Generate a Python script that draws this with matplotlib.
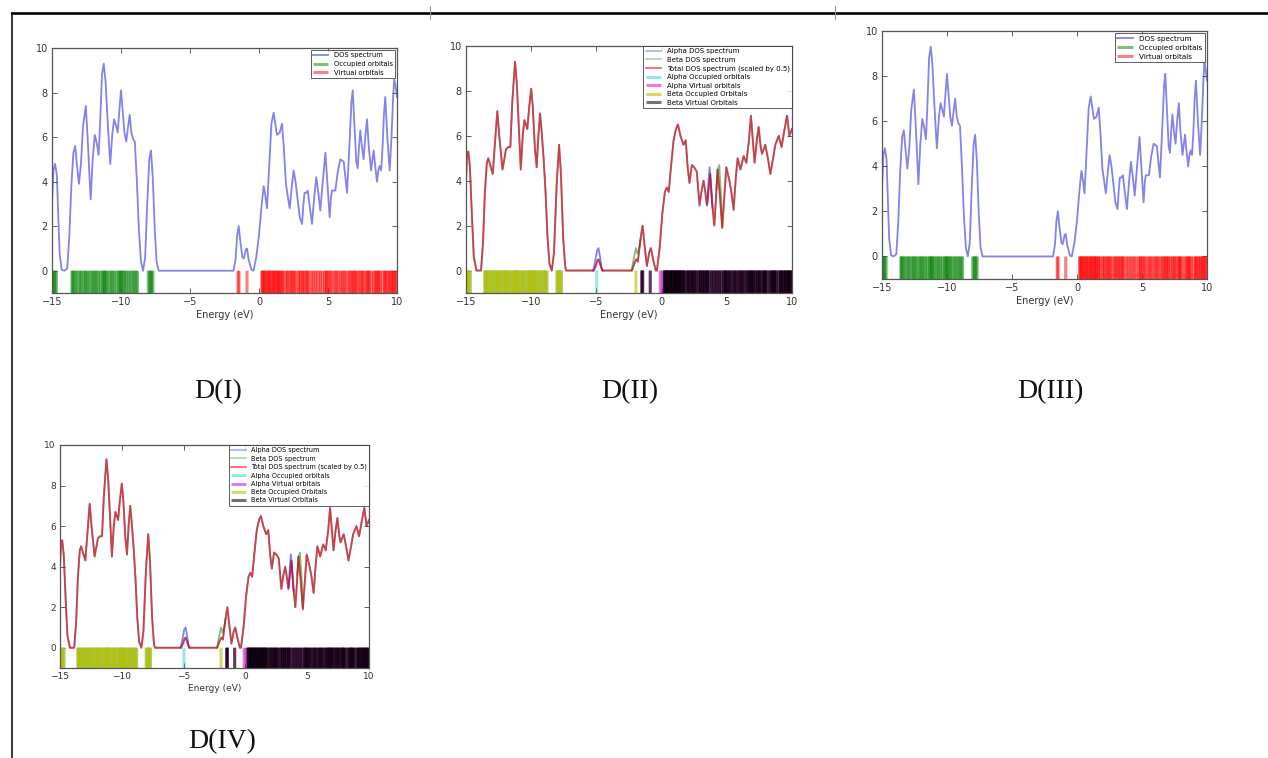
import matplotlib
matplotlib.use("Agg")
import matplotlib.pyplot as plt
from matplotlib.lines import Line2D

# --- orbital energies (eV) ---
occupied = [-15.0, -14.92, -14.85, -14.78, -14.68,
            -13.55, -13.5, -13.42, -13.3, -13.2, -13.05, -12.95, -12.85, -12.7, -12.6,
            -12.52, -12.4, -12.3, -12.15, -12.05, -11.95, -11.85, -11.75, -11.62,
            -11.5, -11.35, -11.28, -11.2, -11.15, -11.05, -10.95, -10.8, -10.7,
            -10.6, -10.48, -10.35, -10.2, -10.12, -10.05, -9.98, -9.9, -9.8, -9.7,
            -9.6, -9.45, -9.35, -9.22, -9.1, -9.0, -8.9, -8.8,
            -8.02, -7.92, -7.85, -7.78, -7.68]
virtual = [-1.52, -1.45, -0.87,
           0.2, 0.25, 0.3, 0.38, 0.45, 0.5, 0.62, 0.68, 0.75, 0.82, 0.9, 1.0, 1.05,
           1.12, 1.2, 1.3, 1.35, 1.42, 1.48, 1.55, 1.65, 1.7, 1.8, 1.95, 2.05, 2.1,
           2.25, 2.32, 2.4, 2.5, 2.58, 2.7, 2.85, 2.95, 3.0, 3.15, 3.2, 3.3, 3.42,
           3.5, 3.55, 3.7, 3.85, 3.95, 4.1, 4.2, 4.35, 4.45, 4.6, 4.75, 4.85, 4.9,
           5.0, 5.1, 5.2, 5.3, 5.45, 5.55, 5.65, 5.75, 5.9, 6.0, 6.1, 6.2, 6.3,
           6.45, 6.55, 6.65, 6.75, 6.82, 6.9, 7.0, 7.05, 7.2, 7.3, 7.4, 7.5, 7.55,
           7.7, 7.8, 7.88, 7.95, 8.0, 8.15, 8.3, 8.4, 8.5, 8.55, 8.65, 8.7, 8.8,
           8.95, 9.1, 9.15, 9.2, 9.35, 9.4, 9.5, 9.6, 9.65, 9.75, 9.82, 9.9, 10.0]
alpha_occ_extra = [-4.97]
beta_occ_extra = [-1.97]
alpha_virt_extra = [-0.1, 0.05]

# --- closed shell DOS curve (panels I and III) ---
dos_e = [-15.0, -14.9, -14.78, -14.65, -14.55, -14.45, -14.3, -14.1, -13.9, -13.75,
         -13.6, -13.45, -13.32, -13.2, -13.05, -12.9, -12.75, -12.55, -12.42, -12.2,
         -12.05, -11.9, -11.75, -11.62, -11.5, -11.38, -11.25, -11.12, -10.95, -10.78,
         -10.62, -10.5, -10.35, -10.24, -10.12, -10.0, -9.88, -9.75, -9.62, -9.5,
         -9.37, -9.25, -9.12, -9.0, -8.85, -8.7, -8.55, -8.4, -8.25, -8.1,
         -7.95, -7.83, -7.7, -7.55, -7.42, -7.27, -1.85, -1.7, -1.58, -1.47,
         -1.35, -1.2, -1.1, -0.95, -0.87, -0.75, -0.55, -0.4, -0.2, 0.0,
         0.2, 0.34, 0.45, 0.58, 0.72, 0.9, 1.06, 1.18, 1.3, 1.5,
         1.67, 1.8, 1.95, 2.05, 2.22, 2.38, 2.51, 2.65, 2.8, 2.95,
         3.12, 3.22, 3.3, 3.42, 3.53, 3.65, 3.84, 4.0, 4.15, 4.3,
         4.44, 4.62, 4.81, 4.95, 5.12, 5.22, 5.29, 5.45, 5.53, 5.7,
         5.89, 6.0, 6.14, 6.26, 6.38, 6.55, 6.7, 6.79, 6.92, 7.05,
         7.15, 7.25, 7.34, 7.45, 7.58, 7.7, 7.83, 7.95, 8.12, 8.22,
         8.31, 8.42, 8.55, 8.65, 8.74, 8.85, 8.95, 9.05, 9.15, 9.3,
         9.47, 9.6, 9.72, 9.8, 9.9, 10.0]
dos_v = [3.0, 4.5, 4.8, 4.3, 2.5, 0.8, 0.05, 0.0, 0.1, 1.5,
         3.8, 5.3, 5.6, 4.8, 3.9, 4.8, 6.5, 7.4, 6.0, 3.2,
         5.0, 6.1, 5.7, 5.2, 6.8, 8.8, 9.3, 8.5, 6.5, 4.8,
         6.2, 6.8, 6.5, 6.2, 7.2, 8.1, 7.2, 6.2, 5.8, 6.4,
         7.0, 6.2, 5.9, 5.8, 4.0, 1.8, 0.4, 0.0, 0.6, 3.0,
         5.0, 5.4, 4.2, 1.8, 0.4, 0.0, 0.0, 0.5, 1.6, 2.0,
         1.3, 0.6, 0.55, 0.95, 1.0, 0.5, 0.05, 0.0, 0.6, 1.6,
         3.0, 3.8, 3.4, 2.8, 4.5, 6.6, 7.1, 6.6, 6.1, 6.2,
         6.6, 5.5, 3.9, 3.5, 2.8, 3.8, 4.5, 4.0, 3.2, 2.4,
         2.1, 3.0, 3.5, 3.5, 3.6, 3.0, 2.1, 3.3, 4.2, 3.5,
         2.7, 4.0, 5.3, 4.0, 2.4, 3.3, 3.6, 3.6, 3.6, 4.4,
         5.0, 4.95, 4.9, 4.2, 3.5, 5.6, 7.6, 8.1, 6.5, 4.9,
         4.6, 5.6, 6.3, 5.6, 5.0, 6.0, 6.8, 5.6, 4.5, 5.0,
         5.4, 4.7, 4.0, 4.5, 4.7, 4.5, 5.5, 7.0, 7.8, 6.0,
         4.5, 6.0, 7.8, 8.6, 8.3, 7.8]

# --- open shell total DOS, scaled by 0.5 (panels II and IV) ---
tot_e = [-15.0, -14.92, -14.82, -14.7, -14.55, -14.4, -14.2, -13.85, -13.7, -13.55,
         -13.4, -13.29, -13.1, -12.95, -12.8, -12.6, -12.45, -12.2, -12.05, -11.93,
         -11.75, -11.6, -11.45, -11.24, -11.1, -10.95, -10.8, -10.65, -10.52, -10.4,
         -10.3, -10.15, -10.0, -9.88, -9.72, -9.58, -9.45, -9.32, -9.2, -9.05,
         -8.9, -8.75, -8.6, -8.42, -8.25, -8.05, -7.86, -7.72, -7.55, -7.4,
         -7.32, -5.2, -5.05, -4.92, -4.84, -4.72, -4.55, -2.28, -2.1, -1.95,
         -1.82, -1.62, -1.46, -1.32, -1.13, -0.95, -0.82, -0.65, -0.45, -0.36,
         -0.15, 0.05, 0.25, 0.4, 0.55, 0.7, 0.92, 1.1, 1.25, 1.45,
         1.68, 1.85, 2.0, 2.14, 2.32, 2.5, 2.7, 2.91, 3.05, 3.22,
         3.35, 3.48, 3.6, 3.73, 3.88, 4.04, 4.15, 4.29, 4.45, 4.65,
         4.8, 4.96, 5.2, 5.35, 5.52, 5.7, 5.83, 6.05, 6.29, 6.5,
         6.7, 6.85, 7.0, 7.13, 7.3, 7.44, 7.6, 7.7, 7.95, 8.15,
         8.34, 8.55, 8.72, 8.98, 9.2, 9.4, 9.62, 9.8, 10.0]
tot_v = [4.0, 5.2, 5.3, 4.6, 2.5, 0.6, 0.0, 0.0, 1.2, 3.5,
         4.8, 5.0, 4.6, 4.3, 5.5, 7.1, 6.0, 4.5, 5.0, 5.4,
         5.5, 5.5, 7.5, 9.3, 8.3, 6.4, 4.5, 6.0, 6.7, 6.5,
         6.3, 7.3, 8.1, 7.3, 5.5, 4.6, 6.0, 7.0, 6.2, 5.0,
         3.5, 1.5, 0.3, 0.0, 0.8, 3.8, 5.6, 4.3, 1.5, 0.2,
         0.0, 0.0, 0.2, 0.45, 0.5, 0.3, 0.0, 0.0, 0.3, 0.5,
         0.4, 1.4, 2.0, 1.2, 0.2, 0.8, 1.0, 0.5, 0.0, 0.0,
         1.0, 2.5, 3.5, 3.7, 3.5, 4.5, 5.8, 6.3, 6.5, 6.0,
         5.6, 5.8, 4.6, 3.9, 4.7, 4.6, 4.4, 2.9, 3.5, 4.0,
         3.5, 2.9, 3.6, 4.3, 3.0, 2.0, 3.0, 4.5, 3.5, 1.9,
         3.2, 4.6, 4.0, 3.5, 2.7, 4.2, 5.0, 4.5, 5.1, 4.8,
         5.8, 6.9, 5.8, 4.8, 5.8, 6.4, 5.5, 5.2, 5.6, 5.0,
         4.3, 5.0, 5.6, 6.0, 5.5, 6.2, 6.9, 6.0, 6.3]
# spots where the alpha / beta curves stick out of the total one
alpha_bump_e = [-5.25, -5.1, -4.95, -4.84, -4.72, -4.6, -4.5]
alpha_bump_v = [0.0, 0.4, 0.9, 1.0, 0.6, 0.1, 0.0]
alpha_bump2_e = [3.5, 3.6, 3.68, 3.8, 3.9]
alpha_bump2_v = [3.0, 4.0, 4.6, 3.6, 2.8]
beta_bump_e = [-2.3, -2.15, -1.97, -1.85, -1.72, -1.6]
beta_bump_v = [0.0, 0.5, 1.0, 0.75, 1.0, 1.4]
beta_bump2_e = [4.2, 4.32, 4.42, 4.55, 4.65]
beta_bump2_v = [3.6, 4.5, 4.7, 3.4, 2.0]

W, H = 1268, 758
STICK_LW = 2.2


def px_axes(fig, left, right, top, bottom):
    return fig.add_axes([left / W, 1 - bottom / H, (right - left) / W, (bottom - top) / H])


def style_axes(ax, fs):
    ax.set_xlim(-15, 10)
    ax.set_ylim(-1, 10)
    ax.set_xticks([-15, -10, -5, 0, 5, 10])
    ax.set_yticks([0, 2, 4, 6, 8, 10])
    ax.tick_params(direction="in", top=True, right=True, length=3.5, width=0.6,
                   labelsize=fs, colors="#444444", labelcolor="#333333", pad=3)
    for s in ax.spines.values():
        s.set_color("#555555")
        s.set_linewidth(0.9)
    ax.set_xlabel("Energy (eV)", fontsize=fs, color="#333333", labelpad=2)


def sticks(ax, energies, color, alpha, label=None):
    lc = ax.vlines(energies, -1, 0, colors=color, alpha=alpha, lw=STICK_LW, label=label)
    lc.set_snap(False)
    return lc


def closed_shell(ax, fs, lfs):
    ax.plot(dos_e, dos_v, color="#3030e0", alpha=0.6, lw=1.3, label="DOS spectrum")
    sticks(ax, occupied, "g", 0.5, "Occupied orbitals")
    sticks(ax, virtual, "r", 0.5, "Virtual orbitals")
    style_axes(ax, fs)
    leg = ax.legend(loc="upper right", fontsize=lfs, fancybox=False, borderaxespad=0.3,
                    handlelength=2.2, labelspacing=0.4, borderpad=0.35)
    leg.get_frame().set_edgecolor("#333333")
    leg.get_frame().set_linewidth(0.7)


def open_shell(ax, fs, lfs):
    ax.plot(tot_e, tot_v, color="b", alpha=0.3, lw=1.3, label="Alpha DOS spectrum")
    ax.plot(tot_e, tot_v, color="g", alpha=0.3, lw=1.3, label="Beta DOS spectrum")
    ax.plot(alpha_bump_e, alpha_bump_v, color="b", alpha=0.5, lw=1.3)
    ax.plot(alpha_bump2_e, alpha_bump2_v, color="b", alpha=0.5, lw=1.3)
    ax.plot(beta_bump_e, beta_bump_v, color="g", alpha=0.5, lw=1.3)
    ax.plot(beta_bump2_e, beta_bump2_v, color="g", alpha=0.5, lw=1.3)
    ax.plot(tot_e, tot_v, color="r", alpha=0.6, lw=1.3,
            label="Total DOS spectrum (scaled by 0.5)")
    sticks(ax, occupied + alpha_occ_extra, "c", 0.4, "Alpha Occupied orbitals")
    sticks(ax, virtual + alpha_virt_extra, "m", 0.5, "Alpha Virtual orbitals")
    sticks(ax, occupied + beta_occ_extra, "y", 0.6, "Beta Occupied Orbitals")
    sticks(ax, virtual, "k", 0.55, "Beta Virtual Orbitals")
    style_axes(ax, fs)
    leg = ax.legend(loc="upper right", fontsize=lfs, fancybox=False, borderaxespad=0.0,
                    handlelength=2.2, labelspacing=0.35, borderpad=0.35)
    leg.get_frame().set_edgecolor("#333333")
    leg.get_frame().set_linewidth(0.7)


fig = plt.figure(figsize=(W / 100, H / 100), dpi=100)

ax1 = px_axes(fig, 52, 397, 48, 293)
closed_shell(ax1, 7, 4.9)
ax2 = px_axes(fig, 466, 792, 46, 293)
open_shell(ax2, 7, 5.0)
ax3 = px_axes(fig, 882, 1207, 31, 279)
closed_shell(ax3, 7, 5.2)
ax4 = px_axes(fig, 60, 369, 445, 668)
open_shell(ax4, 6.5, 4.7)

# captions
for label, cx, cy in [("D(I)", 218, 392), ("D(II)", 630, 392),
                      ("D(III)", 1050, 392), ("D(IV)", 222, 742)]:
    fig.text(cx / W, 1 - cy / H, label, ha="center", va="center",
             family="Liberation Serif", fontsize=20, color="#111111")

# page frame: top rule and left rule with small column marks
fig.add_artist(Line2D([12 / W, 1], [1 - 13 / H, 1 - 13 / H], color="black", lw=1.9))
fig.add_artist(Line2D([12 / W, 12 / W], [0, 1 - 13 / H], color="black", lw=1.1))
for xm in (430, 835):
    fig.add_artist(Line2D([xm / W, xm / W], [1 - 6 / H, 1 - 19 / H], color="#999999", lw=0.8))

fig.savefig("out.png", dpi=100)
